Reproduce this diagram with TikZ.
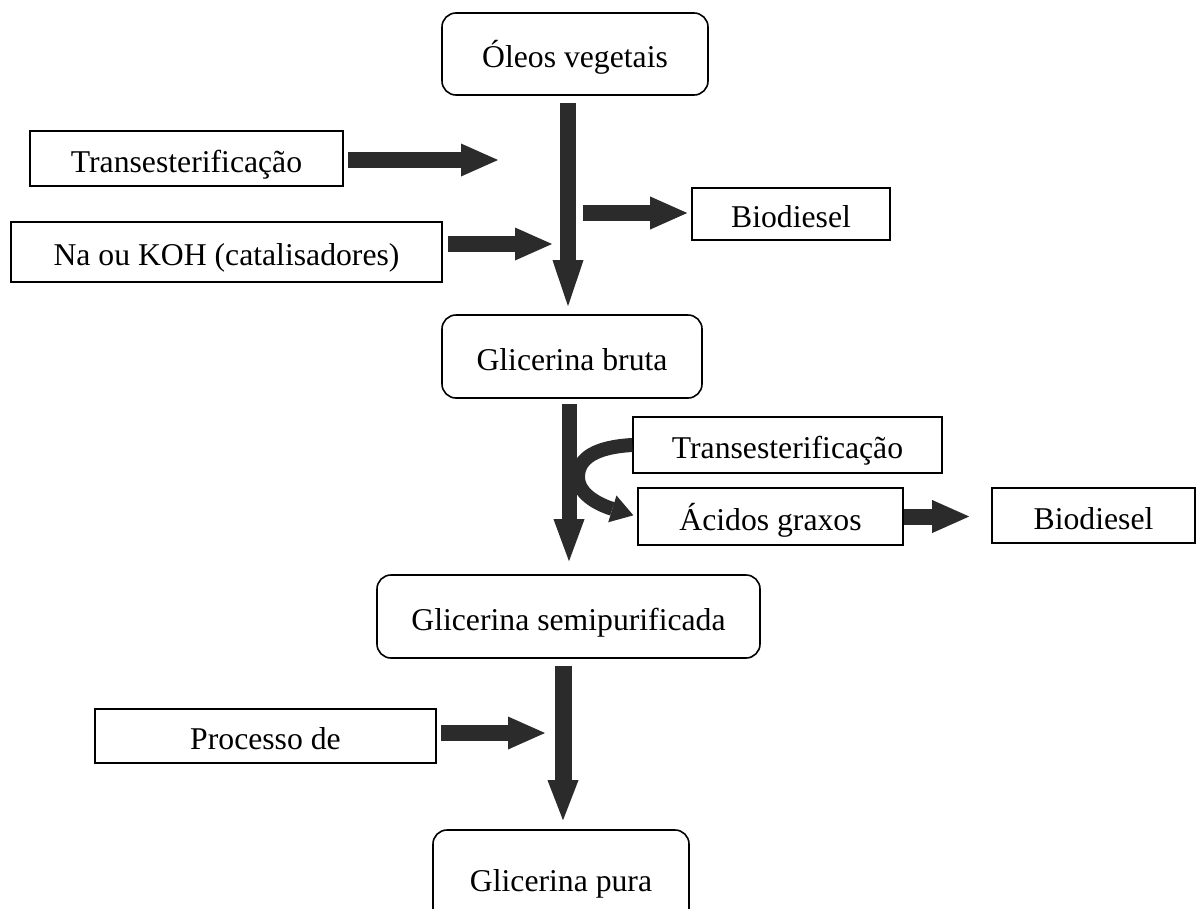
\documentclass[tikz,border=0pt]{standalone}
\usepackage{fontspec}
\setmainfont{Liberation Serif}
\usetikzlibrary{arrows.meta}

\definecolor{arrowgray}{HTML}{2B2B2B}

\tikzstyle{block}=[rectangle,
    line width=1.6pt,
    draw=black,
    fill=white,
    inner sep=0pt,
    text height=31pt,
    text depth=4pt,
    font=\fontsize{31.7}{38}\selectfont]
\tikzstyle{stage}=[block, rounded corners=14pt]
\tikzstyle{flow}=[line width=16pt,
    draw=arrowgray,
    -{Triangle[width=33pt,length=37pt,line width=0pt]}]
\tikzstyle{main flow}=[flow,
    -{Triangle[width=31pt,length=46pt,line width=0pt]}]
\tikzstyle{bent flow}=[flow,
    line width=14pt,
    -{Triangle[width=28pt,length=22pt,line width=0pt]}]

\begin{document}
\begin{tikzpicture}[x=1pt, y=-1pt]
    \useasboundingbox (0,0) rectangle (1197,908);
    % stages of the glycerin
    \node (oleos) [stage, minimum width=266pt, minimum height=82pt] at (575,54) {Óleos vegetais};
    \node (bruta) [stage, minimum width=260pt, minimum height=83pt] at (572,356.5) {Glicerina bruta};
    \node (semipur) [stage, minimum width=383pt, minimum height=83pt] at (568.5,616.5) {Glicerina semipurificada};
    \node (pura) [stage, minimum width=256pt, minimum height=96pt] at (561,878) {Glicerina pura};
    % side boxes
    \node (trans1) [block, minimum width=313pt, minimum height=55pt] at (186.5,158.5) {Transesterificação};
    \node (na) [block, minimum width=431pt, minimum height=60pt] at (226.5,252) {Na ou KOH (catalisadores)};
    \node (bio1) [block, minimum width=198pt, minimum height=52pt] at (791,214) {Biodiesel};
    \node (trans2) [block, minimum width=309pt, minimum height=56pt] at (787.5,445) {Transesterificação};
    \node (acidos) [block, minimum width=265pt, minimum height=57pt] at (770.5,516.5) {Ácidos graxos};
    \node (bio2) [block, minimum width=203pt, minimum height=55pt] at (1093.5,515.5) {Biodiesel};
    \node (proc) [block, minimum width=341pt, minimum height=54pt] at (265.5,736) {Processo de};
    % free ends
    \coordinate (t1end) at (498,160);
    \coordinate (naend) at (552,244);
    \coordinate (bio1start) at (583,213);
    \coordinate (procend) at (545,733);

    \draw [main flow, shorten <=7pt, shorten >=8pt] ([xshift=-7pt]oleos.south) -- ([xshift=-4pt]bruta.north);
    \draw [flow, shorten <=4pt] (trans1.east |- t1end) -- (t1end);
    \draw [flow, shorten <=5pt] (na.east |- naend) -- (naend);
    \draw [flow, shorten >=4pt] (bio1start) -- (bio1.west |- bio1start);
    \draw [main flow, line width=15pt, -{Triangle[width=31pt,length=42pt,line width=0pt]}, shorten <=5pt, shorten >=13pt] ([xshift=-3pt]bruta.south) -- ([xshift=0.5pt]semipur.north);
    \draw [bent flow, shorten >=4pt] (trans2.west) .. controls (596,447) and (578,458) .. (578,477)
        .. controls (578,496) and (603,506) .. (acidos.west);
    \draw [flow, shorten >=22pt] (acidos.east) -- (bio2.west |- acidos.east);
    \draw [main flow, line width=17pt, -{Triangle[width=31pt,length=40pt,line width=0pt]}, shorten <=7pt, shorten >=9pt] ([xshift=-5.5pt]semipur.south) -- ([xshift=2pt]pura.north);
    \draw [flow, shorten <=4pt] (proc.east |- procend) -- (procend);
\end{tikzpicture}
\end{document}
